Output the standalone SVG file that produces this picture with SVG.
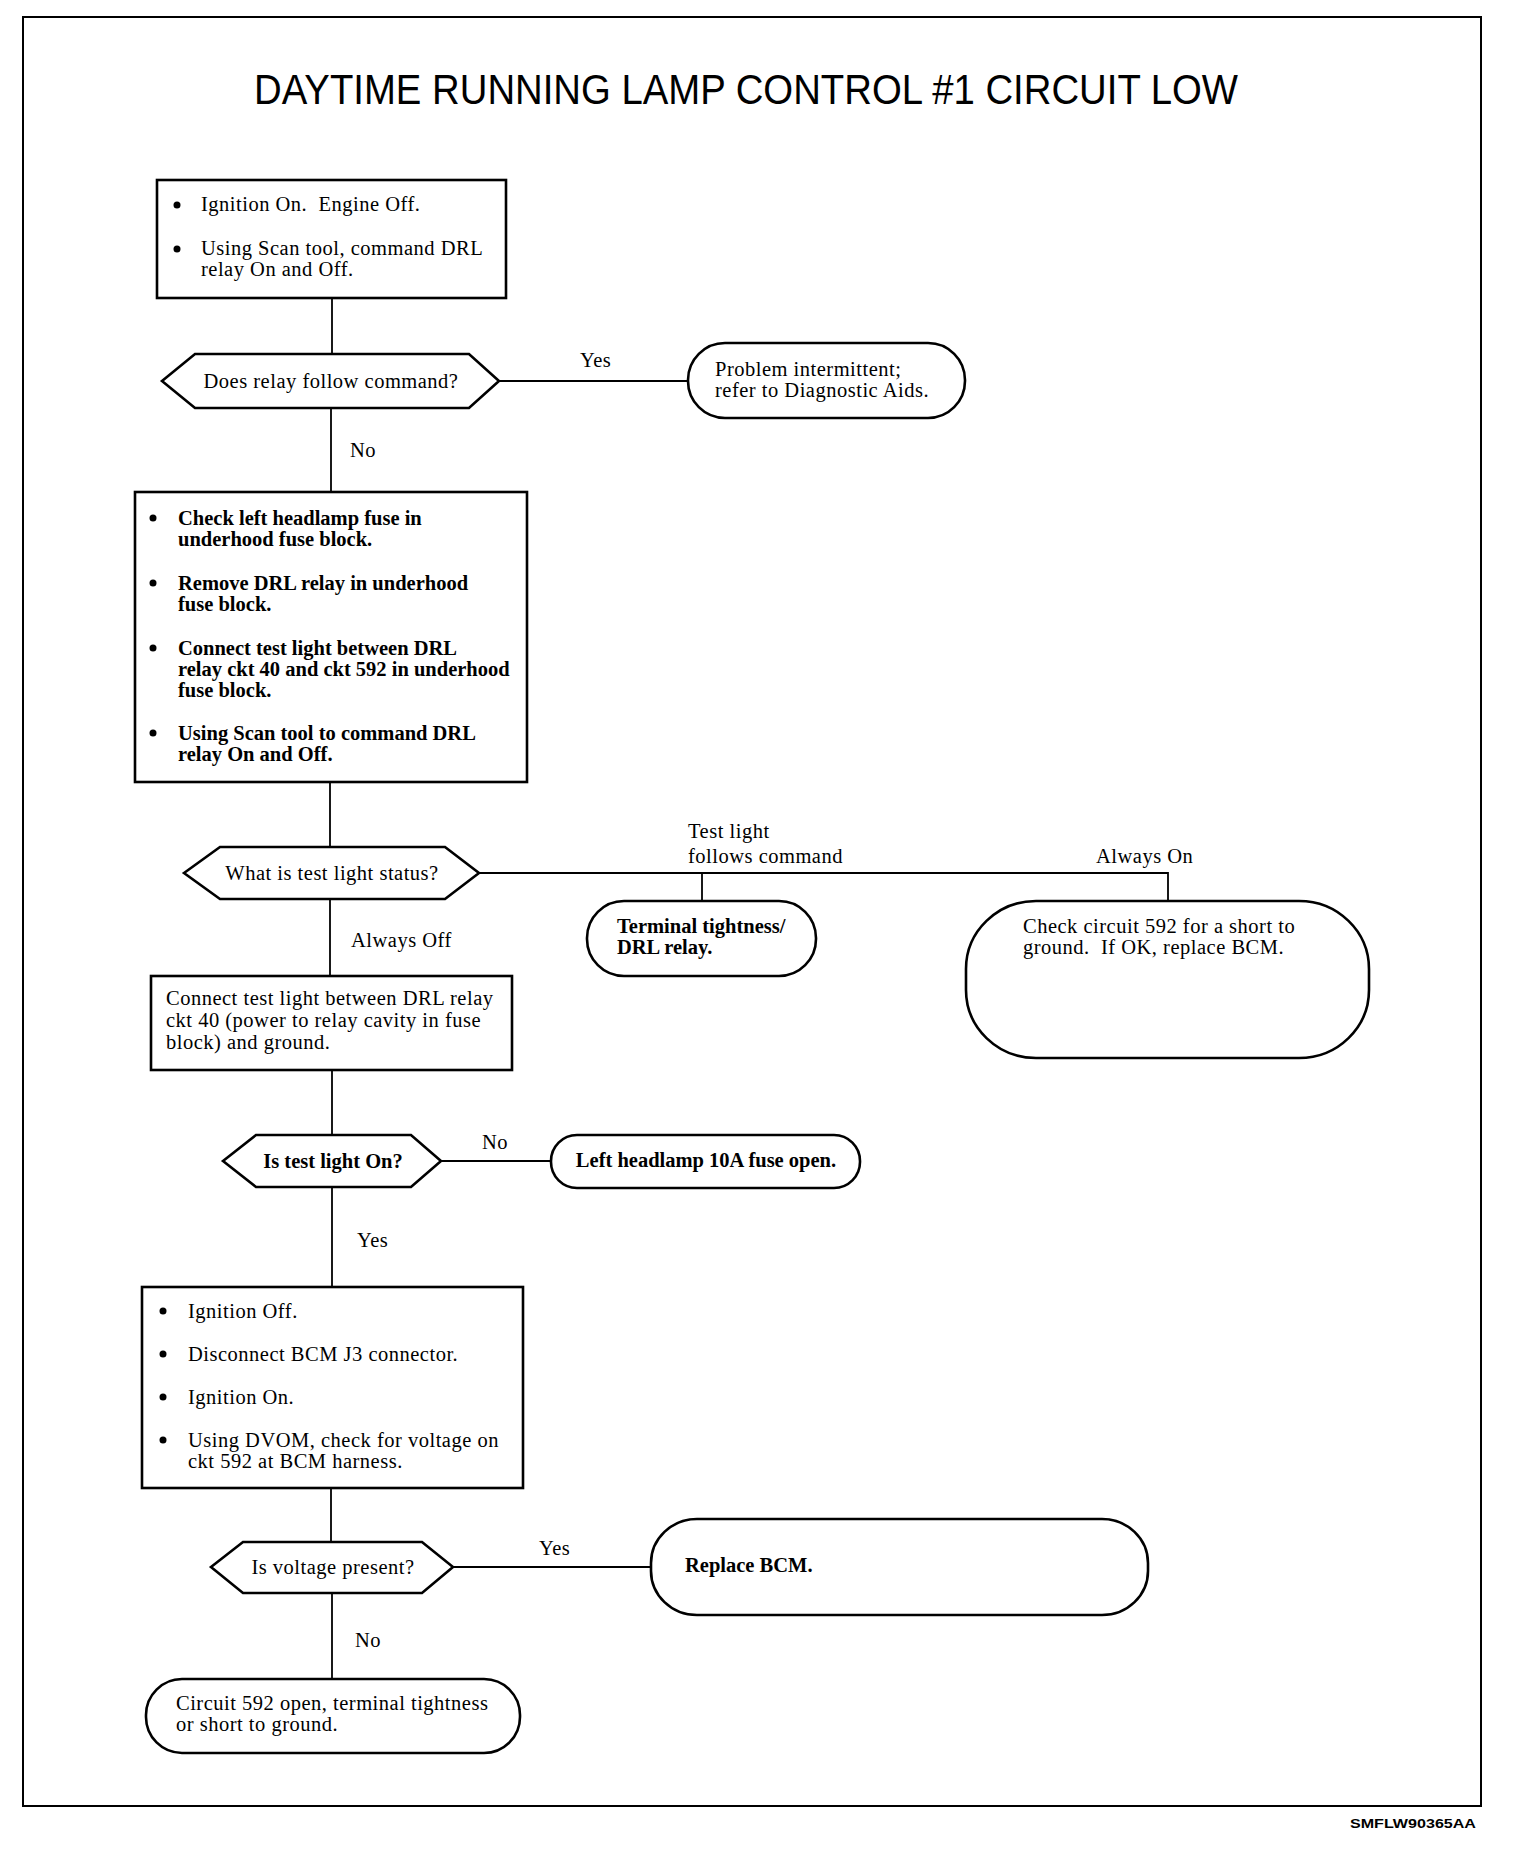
<svg xmlns="http://www.w3.org/2000/svg" width="1520" height="1850" viewBox="0 0 1520 1850">
<style>
  .t{font-family:"Liberation Serif","Times New Roman",serif;font-size:20.5px;letter-spacing:0.5px;fill:#000}
  .b{font-weight:bold;letter-spacing:0}
  .c{text-anchor:middle}
  .box{fill:#fff;stroke:#000;stroke-width:2.6}
  .con{fill:none;stroke:#000;stroke-width:1.8}
  .dot{fill:#000}
</style>
<rect x="0" y="0" width="1520" height="1850" fill="#fff"/>
<rect x="23" y="17" width="1458" height="1789" fill="none" stroke="#000" stroke-width="2"/>
<text x="254" y="104" font-family="'Liberation Sans',Arial,sans-serif" font-size="42" textLength="984" lengthAdjust="spacingAndGlyphs">DAYTIME RUNNING LAMP CONTROL #1 CIRCUIT LOW</text>
<text x="1350" y="1828" font-family="'Liberation Sans',Arial,sans-serif" font-size="13" font-weight="bold" textLength="126" lengthAdjust="spacingAndGlyphs">SMFLW90365AA</text>

<g id="connectors">
  <path class="con" d="M332,298 V354"/>
  <path class="con" d="M499,381 H688"/>
  <path class="con" d="M331,408 V492"/>
  <path class="con" d="M330,782 V847"/>
  <path class="con" d="M479,873 H1168 V901"/>
  <path class="con" d="M702,873 V901"/>
  <path class="con" d="M330,899 V976"/>
  <path class="con" d="M332,1070 V1135"/>
  <path class="con" d="M441,1161 H551" stroke-width="2.6"/>
  <path class="con" d="M332,1187 V1287"/>
  <path class="con" d="M331,1488 V1542"/>
  <path class="con" d="M453,1567 H651" stroke-width="2.6"/>
  <path class="con" d="M332,1593 V1679"/>
  <text class="t" x="580" y="367">Yes</text>
  <text class="t" x="350" y="457">No</text>
  <text class="t" x="688" y="838">Test light</text>
  <text class="t" x="688" y="863">follows command</text>
  <text class="t" x="1096" y="863">Always On</text>
  <text class="t" x="351" y="947">Always Off</text>
  <text class="t" x="482" y="1149">No</text>
  <text class="t" x="357" y="1247">Yes</text>
  <text class="t" x="539" y="1555">Yes</text>
  <text class="t" x="355" y="1647">No</text>
</g>

<g id="box1">
  <rect class="box" x="157" y="180" width="349" height="118"/>
  <circle class="dot" cx="177" cy="205" r="3.5"/>
  <circle class="dot" cx="177" cy="249" r="3.5"/>
  <text class="t" x="201" y="211">Ignition On.&#160; Engine Off.</text>
  <text class="t" x="201" y="255">Using Scan tool, command DRL</text>
  <text class="t" x="201" y="276">relay On and Off.</text>
</g>

<g id="decision1">
  <polygon class="box" points="162,381 195,354 469,354 499,381 469,408 195,408"/>
  <text class="t c" x="331" y="388">Does relay follow command?</text>
</g>

<g id="result1">
  <rect class="box" x="688" y="343" width="277" height="75" rx="37" ry="37"/>
  <text class="t" x="715" y="376">Problem intermittent;</text>
  <text class="t" x="715" y="397">refer to Diagnostic Aids.</text>
</g>

<g id="box2">
  <rect class="box" x="135" y="492" width="392" height="290"/>
  <circle class="dot" cx="153" cy="518" r="3.5"/>
  <circle class="dot" cx="153" cy="583" r="3.5"/>
  <circle class="dot" cx="153" cy="648" r="3.5"/>
  <circle class="dot" cx="153" cy="733" r="3.5"/>
  <text class="t b" x="178" y="525">Check left headlamp fuse in</text>
  <text class="t b" x="178" y="546">underhood fuse block.</text>
  <text class="t b" x="178" y="590">Remove DRL relay in underhood</text>
  <text class="t b" x="178" y="611">fuse block.</text>
  <text class="t b" x="178" y="655">Connect test light between DRL</text>
  <text class="t b" x="178" y="676">relay ckt 40 and ckt 592 in underhood</text>
  <text class="t b" x="178" y="697">fuse block.</text>
  <text class="t b" x="178" y="740">Using Scan tool to command DRL</text>
  <text class="t b" x="178" y="761">relay On and Off.</text>
</g>

<g id="decision2">
  <polygon class="box" points="184,873 220,847 445,847 479,873 445,899 220,899"/>
  <text class="t c" x="332" y="880">What is test light status?</text>
</g>

<g id="result2">
  <rect class="box" x="587" y="901" width="229" height="75" rx="37" ry="37"/>
  <text class="t b" x="617" y="933">Terminal tightness/</text>
  <text class="t b" x="617" y="954">DRL relay.</text>
</g>

<g id="result3">
  <rect class="box" x="966" y="901" width="403" height="157" rx="70" ry="68"/>
  <text class="t" x="1023" y="933">Check circuit 592 for a short to</text>
  <text class="t" x="1023" y="954">ground.&#160; If OK, replace BCM.</text>
</g>

<g id="box3">
  <rect class="box" x="151" y="976" width="361" height="94"/>
  <text class="t" x="166" y="1005">Connect test light between DRL relay</text>
  <text class="t" x="166" y="1027">ckt 40 (power to relay cavity in fuse</text>
  <text class="t" x="166" y="1049">block) and ground.</text>
</g>

<g id="decision3">
  <polygon class="box" points="223,1161 256,1135 411,1135 441,1161 411,1187 256,1187"/>
  <text class="t c b" x="333" y="1168">Is test light On?</text>
</g>

<g id="result4">
  <rect class="box" x="551" y="1135" width="309" height="53" rx="26" ry="26"/>
  <text class="t c b" x="706" y="1167">Left headlamp 10A fuse open.</text>
</g>

<g id="box4">
  <rect class="box" x="142" y="1287" width="381" height="201"/>
  <circle class="dot" cx="163" cy="1311" r="3.5"/>
  <circle class="dot" cx="163" cy="1354" r="3.5"/>
  <circle class="dot" cx="163" cy="1397" r="3.5"/>
  <circle class="dot" cx="163" cy="1440" r="3.5"/>
  <text class="t" x="188" y="1318">Ignition Off.</text>
  <text class="t" x="188" y="1361">Disconnect BCM J3 connector.</text>
  <text class="t" x="188" y="1404">Ignition On.</text>
  <text class="t" x="188" y="1447">Using DVOM, check for voltage on</text>
  <text class="t" x="188" y="1468">ckt 592 at BCM harness.</text>
</g>

<g id="decision4">
  <polygon class="box" points="211,1567 243,1542 422,1542 453,1567 422,1593 243,1593"/>
  <text class="t c" x="333" y="1574">Is voltage present?</text>
</g>

<g id="result5">
  <rect class="box" x="651" y="1519" width="497" height="96" rx="46" ry="44"/>
  <text class="t b" x="685" y="1572">Replace BCM.</text>
</g>

<g id="result6">
  <rect class="box" x="146" y="1679" width="374" height="74" rx="36" ry="36"/>
  <text class="t" x="176" y="1710">Circuit 592 open, terminal tightness</text>
  <text class="t" x="176" y="1731">or short to ground.</text>
</g>
</svg>
